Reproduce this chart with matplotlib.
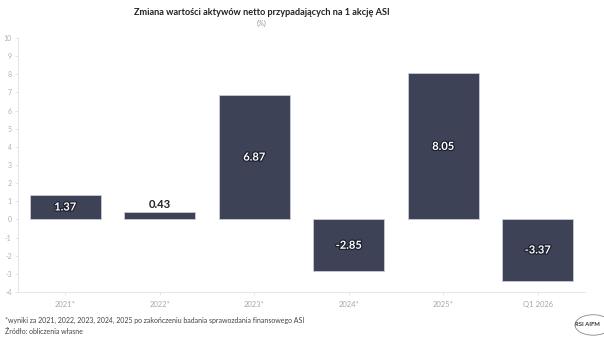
import matplotlib.pyplot as plt
import matplotlib.patheffects as pe

kategorie = ["2021*", "2022*", "2023*", "2024*", "2025*", "Q1 2026"]
zmiany = [1.37, 0.43, 6.87, -2.85, 8.05, -3.37]
yticks = list(range(-4, 11))

plt.rcParams['font.family'] = ['Lato', 'DejaVu Sans']

fig = plt.figure(figsize=(6.04, 3.41), dpi=100)
ax = fig.add_axes([0.0298, 0.1437, 0.9387, 0.745])

kolor = '#3d4257'
x = range(len(kategorie))
ax.bar(x, zmiany, width=0.75, color=kolor, edgecolor='#c9ccd6', linewidth=0.6, zorder=2)

ax.set_xlim(-0.5, len(kategorie) - 0.5)
ax.set_ylim(-4, 10)
ax.set_yticks(yticks)
ax.set_yticklabels([str(t) for t in yticks], fontsize=5, color='#b0b0b0')
ax.set_xticks(list(x))
ax.set_xticklabels(kategorie, fontsize=5.5, color='#a8a8a8')
ax.tick_params(axis='y', length=2.5, width=0.5, color='#dddddd', pad=2)
ax.tick_params(axis='x', length=2.5, width=0.5, color='#dddddd', pad=4)

for s in ['top', 'right']:
    ax.spines[s].set_visible(False)
for s in ['left', 'bottom']:
    ax.spines[s].set_color('#e6e6e6')
    ax.spines[s].set_linewidth(0.7)

# etykiety wartosci
for i, v in enumerate(zmiany):
    if abs(v) < 1:
        ax.text(i, v + 0.1, f"{v:.2f}", ha='center', va='bottom',
                fontsize=8, fontweight='bold', color='#222222', zorder=3)
    else:
        ax.text(i, v / 2, f"{v:.2f}", ha='center', va='center',
                fontsize=8, fontweight='bold', color='white', zorder=3,
                path_effects=[pe.withStroke(linewidth=1.8, foreground='#1e2130')])

fig.text(0.433, 0.962, "Zmiana wartości aktywów netto przypadających na 1 akcję ASI",
         ha='center', va='center', fontsize=6.6, fontweight='bold', color='#222222')
fig.text(0.433, 0.93, "(%)", ha='center', va='center', fontsize=5.2, color='#999999')

fig.text(0.008, 0.06, "*wyniki za 2021, 2022, 2023, 2024, 2025 po zakończeniu badania sprawozdania finansowego ASI",
         ha='left', va='center', fontsize=5.0, color='#444444')
fig.text(0.008, 0.028, "Źródło: obliczenia własne",
         ha='left', va='center', fontsize=5.0, color='#444444')

# logo
fig.text(0.972, 0.047, "RSI AIFM", ha='center', va='center', fontsize=4.2,
         fontweight='bold', color='#333333')
logo = plt.Circle((0.982, 0.047), 0.03, transform=fig.transFigure, fill=False,
                  edgecolor='#888888', linewidth=0.6)
fig.add_artist(logo)

fig.savefig("out.png", dpi=100)
